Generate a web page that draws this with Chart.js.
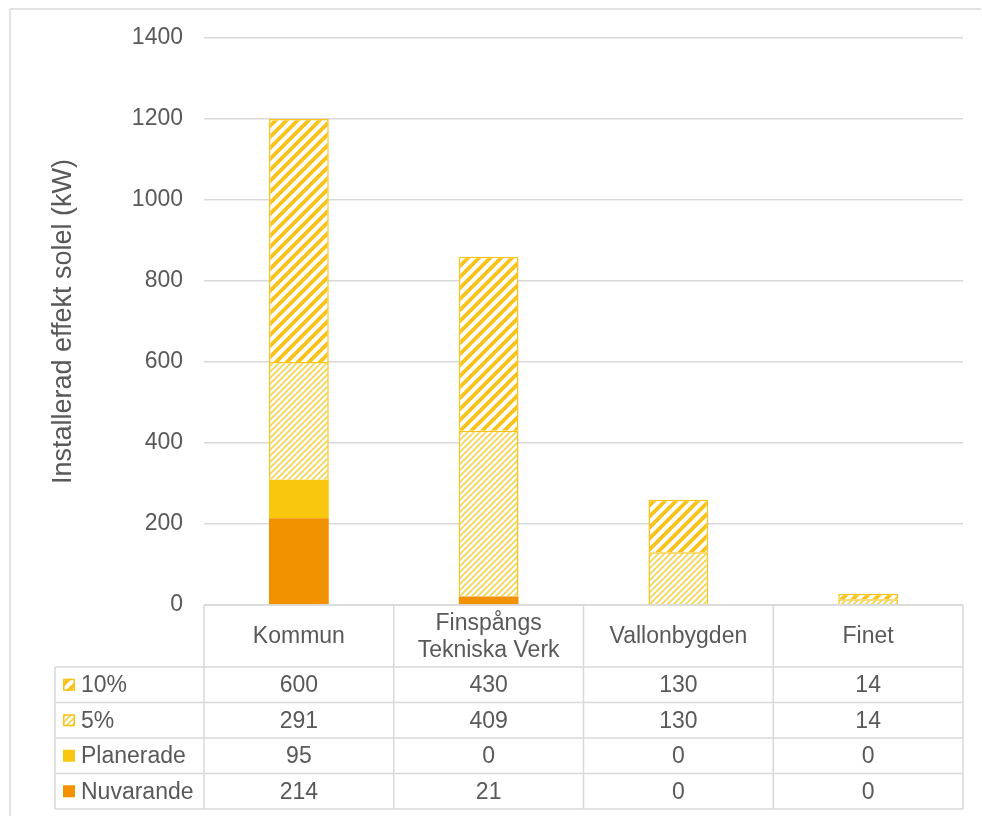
<!DOCTYPE html>
<html><head><meta charset="utf-8">
<script src="https://cdn.jsdelivr.net/npm/chart.js@4.4.1/dist/chart.umd.min.js"></script>
<style>html,body{margin:0;padding:0;background:#fff;overflow:hidden}canvas{display:block}</style>
</head><body>
<canvas id="c" width="982" height="816"></canvas>
<script>
// ---- data ----
const categories = [['Kommun'], ['Finspångs', 'Tekniska Verk'], ['Vallonbygden'], ['Finet']];
const nuvarande = [214, 21, 0, 0];
const planerade = [95, 0, 0, 0];
const pct5 = [291, 409, 130, 14];
const pct10 = [600, 430, 130, 14];
const seriesNames = { nuvarande: 'Nuvarande', planerade: 'Planerade', pct5: '5%', pct10: '10%' };
const yMin = 0, yMax = 1400, yStep = 200;
const yTitle = 'Installerad effekt solel (kW)';

// ---- styles ----
const TXT = '#595959';
const GRID = '#d9d9d9';
const FONT = "'Liberation Sans', Arial, sans-serif";
const ORANGE = '#F39200';
const YELLOW = '#F9C70E';
const HATCH = '#FAC31A';

function stripePattern(size, width, color) {
  const c = document.createElement('canvas');
  c.width = size; c.height = size;
  const g = c.getContext('2d');
  g.fillStyle = '#ffffff'; g.fillRect(0, 0, size, size);
  g.strokeStyle = color; g.lineWidth = width; g.lineCap = 'square';
  g.beginPath();
  g.moveTo(-size, 2 * size); g.lineTo(2 * size, -size);
  g.moveTo(-size, size); g.lineTo(size, -size);
  g.moveTo(0, 2 * size); g.lineTo(2 * size, 0);
  g.stroke();
  return g.createPattern(c, 'repeat');
}
const wide = stripePattern(11, 3.8, HATCH);
const light = stripePattern(6, 1.7, '#F4D455');

const tablePlugin = {
  id: 'dataTable',
  afterDraw(chart) {
    const ctx = chart.ctx, xs = chart.scales.x, area = chart.chartArea;
    const n = categories.length;
    const half = (xs.getPixelForValue(1) - xs.getPixelForValue(0)) / 2;
    const edges = [];
    for (let i = 0; i < n; i++) edges.push(xs.getPixelForValue(i) - half);
    edges.push(xs.getPixelForValue(n - 1) + half);
    const top = area.bottom, headBottom = top + 62, rowH = 35.5, nRows = 4;
    const tableBottom = headBottom + rowH * nRows;
    const legLeft = 55;
    ctx.save();
    ctx.strokeStyle = GRID; ctx.lineWidth = 1.5;
    ctx.beginPath();
    ctx.moveTo(edges[0], top); ctx.lineTo(edges[n], top);
    for (let r = 0; r <= nRows; r++) {
      const y = headBottom + r * rowH;
      ctx.moveTo(legLeft, y); ctx.lineTo(edges[n], y);
    }
    for (let i = 0; i <= n; i++) { ctx.moveTo(edges[i], top); ctx.lineTo(edges[i], tableBottom); }
    ctx.moveTo(legLeft, headBottom); ctx.lineTo(legLeft, tableBottom);
    ctx.stroke();
    // outer chart frame: left and top edges only
    ctx.beginPath();
    ctx.moveTo(10, 816); ctx.lineTo(10, 9);
    ctx.moveTo(10, 9); ctx.lineTo(981, 9);
    ctx.stroke();

    ctx.fillStyle = TXT;
    ctx.font = '23px ' + FONT;
    ctx.textAlign = 'center'; ctx.textBaseline = 'middle';
    for (let i = 0; i < n; i++) {
      const cx = xs.getPixelForValue(i);
      const lines = categories[i];
      const lh = 27;
      const cy = (top + headBottom) / 2 + 1;
      lines.forEach((t, k) => ctx.fillText(t, cx, cy + (k - (lines.length - 1) / 2) * lh));
    }
    const rows = [
      { name: seriesNames.pct10, vals: pct10, swatch: 'wide' },
      { name: seriesNames.pct5, vals: pct5, swatch: 'light' },
      { name: seriesNames.planerade, vals: planerade, swatch: YELLOW },
      { name: seriesNames.nuvarande, vals: nuvarande, swatch: ORANGE }
    ];
    rows.forEach((row, r) => {
      const cy = headBottom + r * rowH + rowH / 2 + 1;
      ctx.textAlign = 'center';
      ctx.fillStyle = TXT;
      for (let i = 0; i < n; i++) ctx.fillText(String(row.vals[i]), xs.getPixelForValue(i), cy);
      const sx = 63, sy = cy - 7, ss = 12;
      if (row.swatch === 'wide' || row.swatch === 'light') {
        ctx.fillStyle = row.swatch === 'wide' ? wide : light;
        ctx.fillRect(sx, sy, ss, ss);
        ctx.strokeStyle = HATCH; ctx.lineWidth = 1.5;
        ctx.strokeRect(sx + 0.75, sy + 0.75, ss - 1.5, ss - 1.5);
      } else {
        ctx.fillStyle = row.swatch;
        ctx.fillRect(sx, sy, ss, ss);
      }
      ctx.fillStyle = TXT;
      ctx.textAlign = 'left';
      ctx.fillText(row.name, 81, cy);
    });
    ctx.restore();
  }
};

new Chart(document.getElementById('c'), {
  type: 'bar',
  data: {
    labels: categories,
    datasets: [
      { label: seriesNames.nuvarande, data: nuvarande, backgroundColor: ORANGE, borderWidth: 0 },
      { label: seriesNames.planerade, data: planerade, backgroundColor: YELLOW, borderWidth: 0 },
      { label: seriesNames.pct5, data: pct5, backgroundColor: light, borderColor: HATCH, borderWidth: 1.5 },
      { label: seriesNames.pct10, data: pct10, backgroundColor: wide, borderColor: HATCH, borderWidth: 1.5 }
    ]
  },
  options: {
    responsive: false,
    animation: false,
    devicePixelRatio: 1,
    layout: { padding: { left: 38, right: 19, top: 38, bottom: 211 } },
    datasets: { bar: { barPercentage: 0.315, categoryPercentage: 1 } },
    plugins: { legend: { display: false }, tooltip: { enabled: false }, title: { display: false } },
    scales: {
      x: { stacked: true, display: false },
      y: {
        stacked: true,
        min: yMin, max: yMax,
        ticks: { stepSize: yStep, color: TXT, font: { family: FONT, size: 23 }, padding: 21,
                 callback: (v) => String(v) },
        grid: { color: GRID, lineWidth: 1.5, drawTicks: false },
        border: { display: false },
        title: { display: true, text: yTitle, color: TXT, font: { family: FONT, size: 27 }, padding: { top: 9, bottom: 0 } },
        afterFit(scale) { scale.width = 204 - 38; }
      }
    }
  },
  plugins: [tablePlugin]
});
</script>
</body></html>
